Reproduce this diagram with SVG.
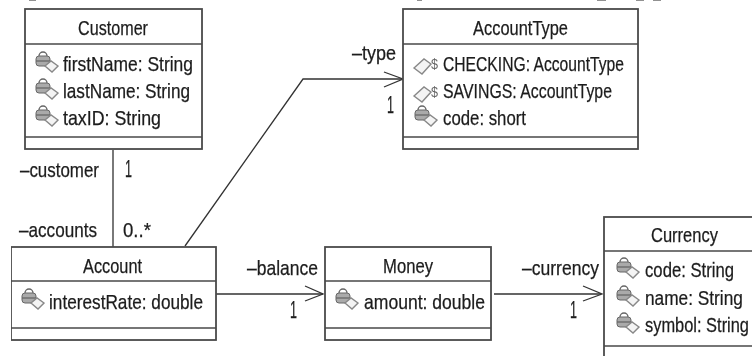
<svg xmlns="http://www.w3.org/2000/svg" width="752" height="356" viewBox="0 0 752 356">
<style>
text{font-family:"Liberation Sans",Arial,sans-serif;fill:#1c1c1c;stroke:#1c1c1c;stroke-width:.25;font-size:21px}
.b{fill:#fff;stroke:#4a4a4a;stroke-width:1.8}
.l{fill:none;stroke:#4a4a4a;stroke-width:1.6}
.c{fill:none;stroke:#333;stroke-width:1.3}
.k{fill:#aaa;stroke:#666;stroke-width:1}
.s{fill:none;stroke:#666;stroke-width:1.3}
.d{fill:#f4f4f4;stroke:#888;stroke-width:1.4}
.m{font-size:14px;fill:#666;stroke:none}
.n{font-size:23px}
</style>
<defs>
<filter id="soft" x="0" y="0" width="1" height="1"><feGaussianBlur stdDeviation="0.4"/></filter>
<g id="priv"><rect x="1" y="-14" width="14" height="10" rx="3" class="k"/><path d="M4 -14a4 4 0 0 1 8 0" class="s"/><path d="M1 -9H15" class="s"/><path d="M10 -4L16 -9L23 -4L17 2Z" class="d"/></g>
<g id="stat"><path d="M0 -4L10 -13L17 -8L8 2Z" class="d"/></g>
</defs>
<rect width="752" height="356" fill="#fff"/>
<g filter="url(#soft)">
<g id="clipped-heading"><path d="M29 0.3H36M417 0.3H422M597 0.3H606M636 0.3H644M653 0.3H661" stroke="#777" stroke-width="1" fill="none"/></g>
<g id="connectors">
<path class="c" d="M113 150V247"/>
<path class="c" d="M185 246L303 79H402"/>
<path class="c" d="M384 72L403 79L384 87"/>
<path class="c" d="M216 294H323"/>
<path class="c" d="M305 286L323 294L305 301"/>
<path class="c" d="M494 294H601"/>
<path class="c" d="M583 286L602 294L583 301"/>
<text x="20" y="177" textLength="79" lengthAdjust="spacingAndGlyphs">–customer</text><text class="n" x="125" y="177" textLength="7" lengthAdjust="spacingAndGlyphs">1</text>
<text x="19" y="237" textLength="78" lengthAdjust="spacingAndGlyphs">–accounts</text><text x="123" y="237" textLength="28" lengthAdjust="spacingAndGlyphs">0..*</text>
<text x="352" y="60" textLength="44" lengthAdjust="spacingAndGlyphs">–type</text><text class="n" x="387" y="113" textLength="7" lengthAdjust="spacingAndGlyphs">1</text>
<text x="247" y="275" textLength="71" lengthAdjust="spacingAndGlyphs">–balance</text><text class="n" x="290" y="318" textLength="7" lengthAdjust="spacingAndGlyphs">1</text>
<text x="522" y="275" textLength="77" lengthAdjust="spacingAndGlyphs">–currency</text><text class="n" x="570" y="318" textLength="7" lengthAdjust="spacingAndGlyphs">1</text>
</g>
<g id="customer">
<rect class="b" x="25" y="9" width="177" height="140"/><path class="l" d="M25 44H202M25 137H202"/>
<text x="78" y="35" textLength="70" lengthAdjust="spacingAndGlyphs">Customer</text>
<use href="#priv" x="35" y="70"/><text x="63" y="71" textLength="130" lengthAdjust="spacingAndGlyphs">firstName: String</text>
<use href="#priv" x="35" y="97"/><text x="63" y="98" textLength="127" lengthAdjust="spacingAndGlyphs">lastName: String</text>
<use href="#priv" x="35" y="124"/><text x="63" y="125" textLength="98" lengthAdjust="spacingAndGlyphs">taxID: String</text>
</g>
<g id="accounttype">
<rect class="b" x="403" y="9" width="235" height="140"/><path class="l" d="M403 44H638M403 137H638"/>
<text x="473" y="35" textLength="95" lengthAdjust="spacingAndGlyphs">AccountType</text>
<use href="#stat" x="414" y="72"/><text class="m" x="431" y="69" textLength="7" lengthAdjust="spacingAndGlyphs">$</text><text x="443" y="71" textLength="181" lengthAdjust="spacingAndGlyphs">CHECKING: AccountType</text>
<use href="#stat" x="414" y="100"/><text class="m" x="431" y="97" textLength="7" lengthAdjust="spacingAndGlyphs">$</text><text x="443" y="98" textLength="169" lengthAdjust="spacingAndGlyphs">SAVINGS: AccountType</text>
<use href="#priv" x="414" y="124"/><text x="443" y="125" textLength="83" lengthAdjust="spacingAndGlyphs">code: short</text>
</g>
<g id="account">
<rect class="b" x="11" y="247" width="205" height="93"/><path class="l" d="M11 281H216M11 328H216"/>
<text x="83" y="273" textLength="59" lengthAdjust="spacingAndGlyphs">Account</text>
<use href="#priv" x="21" y="307"/><text x="49" y="309" textLength="154" lengthAdjust="spacingAndGlyphs">interestRate: double</text>
</g>
<g id="money">
<rect class="b" x="325" y="247" width="166" height="93"/><path class="l" d="M325 281H491M325 328H491"/>
<text x="383" y="273" textLength="50" lengthAdjust="spacingAndGlyphs">Money</text>
<use href="#priv" x="335" y="307"/><text x="364" y="309" textLength="121" lengthAdjust="spacingAndGlyphs">amount: double</text>
</g>
<g id="currency">
<rect class="b" x="604" y="217" width="160" height="150"/><path class="l" d="M604 251H764M604 346H764"/>
<text x="651" y="242" textLength="67" lengthAdjust="spacingAndGlyphs">Currency</text>
<use href="#priv" x="616" y="276"/><text transform="translate(645 277) scale(.795 1)">code: String</text>
<use href="#priv" x="616" y="304"/><text transform="translate(645 305) scale(.823 1)">name: String</text>
<use href="#priv" x="616" y="331"/><text transform="translate(645 332) scale(.782 1)">symbol: String</text>
</g>
</g>
</svg>
